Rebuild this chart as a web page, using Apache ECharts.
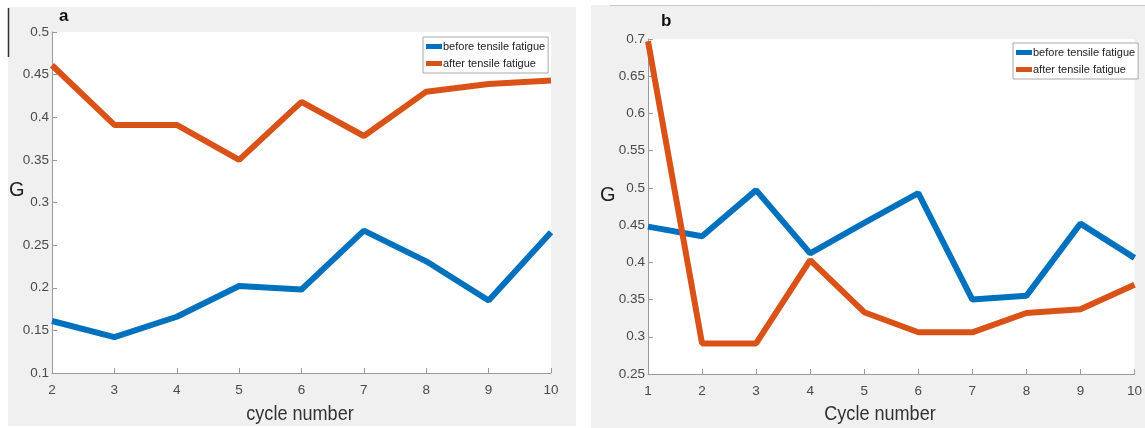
<!DOCTYPE html>
<html><head><meta charset="utf-8">
<script src="https://cdn.jsdelivr.net/npm/echarts@6/dist/echarts.min.js"></script>
<style>html,body{margin:0;padding:0;background:#fff}#c{width:1145px;height:428px}</style>
</head><body><div id="c"></div>
<script>
const cyclesA = [2,3,4,5,6,7,8,9,10];
const beforeA = [0.161,0.142,0.166,0.202,0.198,0.267,0.231,0.185,0.265];
const afterA  = [0.461,0.391,0.391,0.350,0.418,0.378,0.430,0.439,0.443];
const cyclesB = [1,2,3,4,5,6,7,8,9,10];
const beforeB = [0.448,0.435,0.497,0.412,0.453,0.493,0.350,0.355,0.452,0.406];
const afterB  = [0.697,0.291,0.291,0.403,0.333,0.306,0.306,0.332,0.337,0.370];
const seriesNames = ['before tensile fatigue','after tensile fatigue'];
const axisNames = ['cycle number','Cycle number'];
const colors = ['#0072BD','#D95319'];

const F = "'Liberation Sans',Arial,sans-serif";
const chart = echarts.init(document.getElementById('c'));
const pair = (xs, ys) => xs.map((x,i)=>[x, ys[i]]);

function xAx(idx, min){
  return {type:'value', gridIndex:idx, min:min, max:10, interval:1,
    axisLine:{lineStyle:{color:'#9a9a9a', width:1}},
    axisTick:{inside:true, length:5, lineStyle:{color:'#9a9a9a'}},
    axisLabel:{fontFamily:F, fontSize:13.5, color:'#4a4a4a', margin:10},
    splitLine:{show:false}};
}
function yAx(idx, min, max){
  return {type:'value', gridIndex:idx, min:min, max:max, interval:0.05,
    axisLine:{show:true, lineStyle:{color:'#9a9a9a', width:1}},
    axisTick:{show:true, inside:true, length:5, lineStyle:{color:'#9a9a9a'}},
    axisLabel:{fontFamily:F, fontSize:13.5, color:'#4a4a4a', margin:3,
      formatter:v=>String(parseFloat(v.toFixed(2)))},
    splitLine:{show:false}};
}
function line(name, data, xi, color){
  return {type:'line', name:name, xAxisIndex:xi, yAxisIndex:xi, data:data,
    symbol:'none', lineStyle:{width:6, color:color}, itemStyle:{color:color},
    z:3, animation:false};
}
function legend(left, top){
  return {orient:'vertical', left:left, top:top,
    data:seriesNames, icon:'rect', itemWidth:16, itemHeight:5, itemGap:6,
    padding:[4,3,4,3], backgroundColor:'#fff', borderColor:'#a8a8a8', borderWidth:1,
    textStyle:{fontFamily:F, fontSize:11, color:'#222', padding:[0,0,0,-4]}};
}
function nameText(x, y, t){
  return {type:'text', x:x, y:y, scaleX:0.86, style:{text:t, font:"21px 'Liberation Sans',Arial", fill:'#333', align:'center', verticalAlign:'middle'}};
}

chart.setOption({
  animation:false,
  backgroundColor:'#ffffff',
  graphic:[
    {type:'rect', shape:{x:8,y:7,width:568,height:419}, style:{fill:'#f0f0f0'}, z:-10, silent:true},
    {type:'rect', shape:{x:591,y:5,width:554,height:423}, style:{fill:'#f0f0f0'}, z:-10, silent:true},
    {type:'line', shape:{x1:610,y1:5.5,x2:1145,y2:5.5}, style:{stroke:'#c8c8c8', lineWidth:1}, z:-9, silent:true},
    {type:'line', shape:{x1:8.5,y1:8,x2:8.5,y2:57}, style:{stroke:'#333', lineWidth:1.5}, z:-9, silent:true},
    {type:'text', left:59, top:8, style:{text:'a', font:"bold 17px 'Liberation Sans',Arial", fill:'#111'}},
    {type:'text', left:661, top:13, style:{text:'b', font:"bold 17px 'Liberation Sans',Arial", fill:'#111'}},
    {type:'text', left:9, top:180, style:{text:'G', font:"20px 'Liberation Sans',Arial", fill:'#222'}},
    {type:'text', left:600, top:185, style:{text:'G', font:"20px 'Liberation Sans',Arial", fill:'#222'}},
    nameText(300, 414, axisNames[0]),
    nameText(880, 414, axisNames[1])
  ],
  grid:[
    {left:52, top:32, right:594, bottom:55, show:true, backgroundColor:'#fff', borderWidth:0},
    {left:648, top:39, right:7, bottom:54, show:true, backgroundColor:'#fff', borderWidth:0}
  ],
  xAxis:[xAx(0,2), xAx(1,1)],
  yAxis:[yAx(0,0.1,0.5), yAx(1,0.25,0.7)],
  legend:[legend(423,37), legend(1013,43)],
  series:[
    line(seriesNames[0], pair(cyclesA,beforeA), 0, colors[0]),
    line(seriesNames[1], pair(cyclesA,afterA), 0, colors[1]),
    line(seriesNames[0], pair(cyclesB,beforeB), 1, colors[0]),
    line(seriesNames[1], pair(cyclesB,afterB), 1, colors[1])
  ]
});
</script></body></html>
